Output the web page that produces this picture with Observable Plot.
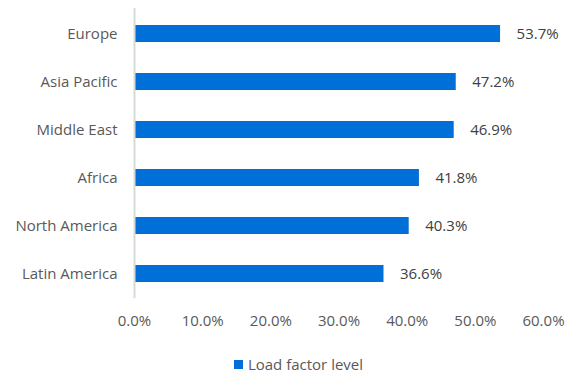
<!DOCTYPE html>
<html>
<head>
<meta charset="utf-8">
<script src="https://cdn.jsdelivr.net/npm/d3@7"></script>
<script src="https://cdn.jsdelivr.net/npm/@observablehq/plot@0.6"></script>
<style>
  html, body { margin: 0; padding: 0; background: #fff; }
  body { width: 571px; height: 376px; overflow: hidden; font-family: "Open Sans", sans-serif; }
  #legend { display: flex; align-items: center; justify-content: center; margin-top: 14px; padding-left: 26px; font-size: 15px; color: #595959; }
  #legend .sw { width: 9px; height: 9px; background: #0070d8; margin-right: 5px; }
</style>
</head>
<body>
<div id="chart"></div>
<div id="legend"><span class="sw"></span><span>Load factor level</span></div>
<script>
const regions = ["Europe", "Asia Pacific", "Middle East", "Africa", "North America", "Latin America"];
const loadFactor = [53.7, 47.2, 46.9, 41.8, 40.3, 36.6];
const xTicks = [0, 10, 20, 30, 40, 50, 60];
const seriesName = "Load factor level";

const data = regions.map((r, i) => ({region: r, value: loadFactor[i]}));
const color = "#0070d8";

const chart = Plot.plot({
  width: 571,
  height: 340,
  marginLeft: 134,
  marginRight: 28,
  marginTop: 8,
  marginBottom: 42,
  style: {fontFamily: "Open Sans, sans-serif", fontSize: "15px", color: "#595959", background: "#fff"},
  x: {domain: [0, 60], ticks: xTicks, tickFormat: d => d.toFixed(1) + "%", tickSize: 0, tickPadding: 17, label: null},
  y: {domain: regions, paddingInner: 0.65, paddingOuter: 0.325, tickSize: 0, tickPadding: 17, label: null},
  marks: [
    Plot.axisX({ticks: xTicks, tickFormat: d => d.toFixed(1) + "%", tickSize: 0, tickPadding: 17, fontSize: 15, label: null}),
    Plot.axisY({tickSize: 0, tickPadding: 17, fontSize: 15, label: null}),
    Plot.barX(data, {x: "value", y: "region", fill: color}),
    Plot.ruleX([0], {stroke: "#d9d9d9", strokeWidth: 2, y1: null, y2: null}),
    Plot.text(data, {x: "value", y: "region", text: d => d.value.toFixed(1) + "%", textAnchor: "start", dx: 16, fill: "#404040", fontSize: 15})
  ]
});
document.getElementById("chart").appendChild(chart);
</script>
</body>
</html>
